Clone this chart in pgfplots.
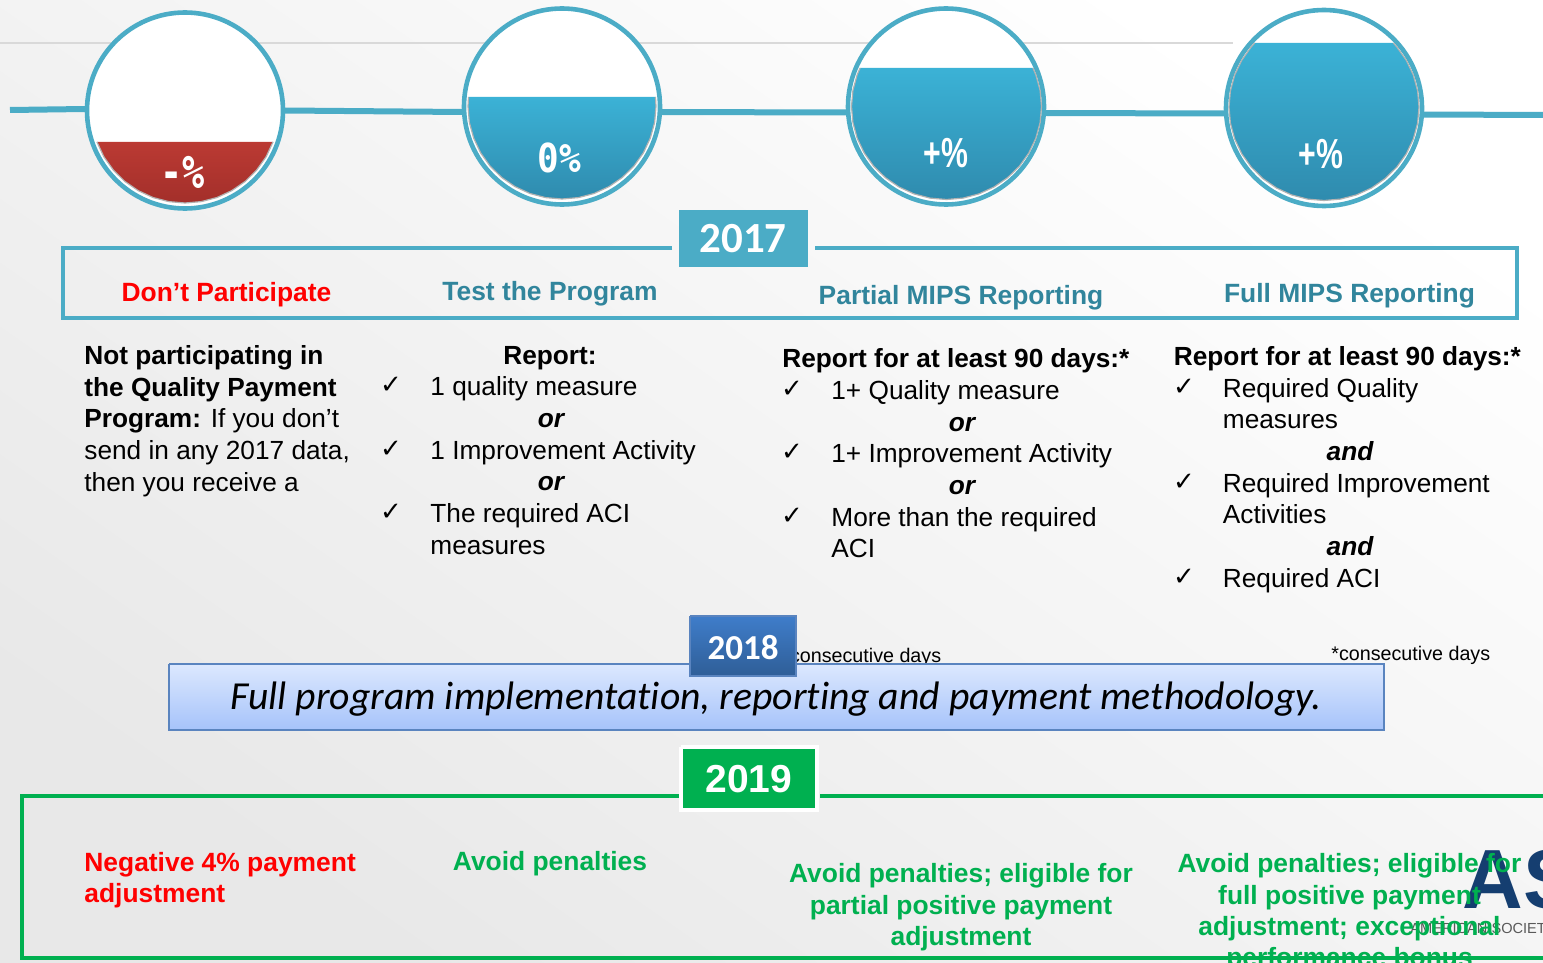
\documentclass[border=0pt]{standalone}
\usepackage{fontspec}
\usepackage{pgfplots}
\pgfplotsset{compat=1.18}
\setmainfont{Liberation Sans}
\newfontfamily\carlito[Ligatures=CommonOff]{Carlito}
\newfontfamily\chk{DejaVu Sans}
\newfontfamily\dmono{DejaVu Sans Mono}
\definecolor{teal}{HTML}{4BACC6}
\definecolor{tealdark}{HTML}{31859C}
\definecolor{grn}{HTML}{00B050}
\definecolor{navy}{HTML}{153E70}
\definecolor{gaugetop}{HTML}{3BB2D6}
\definecolor{gaugebot}{HTML}{2F8BAE}
\definecolor{redtop}{HTML}{BB3A33}
\definecolor{redbot}{HTML}{A32F2A}
\definecolor{bandtop}{HTML}{DCE8FE}
\definecolor{bandbot}{HTML}{A6C3FA}
\definecolor{bandline}{HTML}{5A84BF}
\definecolor{boxtop}{HTML}{3F7DCA}
\definecolor{boxbot}{HTML}{2F5E97}
\tikzset{
  l/.style={anchor=base west,inner sep=0pt,font=\fontsize{13.12}{16}\selectfont,text=black},
  c/.style={l,anchor=base},
  ck/.style={anchor=center,inner sep=0pt,font=\chk\fontsize{13}{14}\selectfont,text=black},
  head/.style={c,font=\bfseries\fontsize{13.2}{16}\selectfont,text=tealdark},
  gl/.style={c,font=\bfseries\fontsize{13.2}{16}\selectfont,text=grn},
  ring/.style={only marks,mark=*,mark size=49pt,mark options={draw=teal,fill=white,line width=2.3pt}},
  teal line/.style={draw=teal,line width=3pt},
  frame/.style={draw=teal,line width=2pt},
  gframe/.style={draw=grn,line width=2pt},
}
\begin{document}
\begin{tikzpicture}
\path[use as bounding box] (0,0) rectangle (771.5pt,481.5pt);
\begin{axis}[
  at={(0,0)},anchor=south west,
  scale only axis,width=771.5pt,height=481.5pt,
  xmin=0,xmax=1543,ymin=0,ymax=963,y dir=reverse,
  axis lines=none,
  clip marker paths=true,
]
% background
\addplot[draw=none,shade,shading=axis,top color=white,middle color=black!1,bottom color=black!9,shading angle=325]
  coordinates {(0,0) (1543,0) (1543,963) (0,963)};
% grey rule and teal time line
\addplot[draw=black!15,line width=0.8pt] coordinates {(0,43) (1233,43)};
\addplot[teal line] coordinates {(10,110) (85,109)};
\addplot[teal line] coordinates {(285,110.5) (462,112)};
\addplot[teal line] coordinates {(662,112) (846,112.5)};
\addplot[teal line] coordinates {(1046,113) (1224,113.5)};
\addplot[teal line] coordinates {(1424,114.5) (1543,115)};
% gauges
\addplot[ring] coordinates {(185,110.5)};
\addplot[ring] coordinates {(562,106.5)};
\addplot[ring] coordinates {(946,106.5)};
\addplot[ring] coordinates {(1324,108)};
\addplot[draw=gray!60,line width=0.6pt,top color=redtop,bottom color=redbot]
  coordinates {(273,142) (266.1,156.8) (256.7,170) (245.2,181.4) (231.8,190.6) (217,197.5) (201.3,201.6) (185,203)
  (168.7,201.6) (153,197.5) (138.2,190.6) (124.8,181.4) (113.3,170) (103.9,156.8) (97,142)};
\addplot[draw=gray!60,line width=0.6pt,top color=gaugetop,bottom color=gaugebot]
  coordinates {(655.5,97) (656,106.5) (654.6,122.6) (650.3,138.1) (643.4,152.8) (634,166) (622.4,177.4) (609,186.6) (594.1,193.5) (578.4,197.6) (562,199)
  (545.6,197.6) (529.9,193.5) (515,186.6) (501.6,177.4) (490,166) (480.6,152.8) (473.7,138.1) (469.4,122.6) (468,106.5) (468.5,97)};
\addplot[draw=gray!60,line width=0.6pt,top color=gaugetop,bottom color=gaugebot]
  coordinates {(1032.9,68) (1035.8,74.7) (1040.1,90.4) (1041.5,106.5) (1040.1,122.6) (1035.8,138.3) (1028.8,153) (1019.3,166.3) (1007.6,177.7) (994,187) (979,193.9) (963,198.1) (946.5,199.5)
  (930,198.1) (914,193.9) (899,187) (885.4,177.7) (873.7,166.3) (864.2,153) (857.2,138.3) (852.9,122.6) (851.5,106.5) (852.9,90.4) (857.2,74.7) (860.1,68)};
\addplot[draw=gray!60,line width=0.6pt,top color=gaugetop,bottom color=gaugebot]
  coordinates {(1393.3,43) (1396.8,46.9) (1406.3,60.3) (1413.3,75) (1417.6,90.8) (1419,107) (1417.6,123.2) (1413.3,139) (1406.3,153.8) (1396.8,167.1) (1385.1,178.6) (1371.5,188) (1356.5,194.9) (1340.5,199.1) (1324,200.5)
  (1307.5,199.1) (1291.5,194.9) (1276.5,188) (1262.9,178.6) (1251.2,167.1) (1241.7,153.8) (1234.7,139) (1230.4,123.2) (1229,107) (1230.4,90.8) (1234.7,75) (1241.7,60.3) (1251.2,46.9) (1254.7,43)};
\node[anchor=center,text=white,font=\dmono\bfseries\fontsize{23}{24}\selectfont] at (axis cs:183,172) {\scalebox{0.8}[1]{-\%}};
\node[anchor=center,text=white,font=\dmono\bfseries\fontsize{20}{22}\selectfont] at (axis cs:559,158) {\scalebox{0.9}[1]{0\%}};
\node[anchor=center,text=white,font=\bfseries\fontsize{21}{24}\selectfont] at (axis cs:946,153) {\scalebox{0.72}[1]{+\%}};
\node[anchor=center,text=white,font=\bfseries\fontsize{21}{24}\selectfont] at (axis cs:1321,154) {\scalebox{0.72}[1]{+\%}};
% 2017 frame and box
\addplot[frame] coordinates {(672,248) (63,248) (63,318) (1517,318) (1517,248) (815,248)};
\addplot[fill=teal,draw=none] coordinates {(679,210) (808,210) (808,267) (679,267)};
\node[anchor=center,text=white,font=\carlito\bfseries\fontsize{21.5}{24}\selectfont] at (axis cs:743,239) {2017};
\node[c,font=\bfseries\fontsize{13.2}{16}\selectfont,text=red] at (axis cs:226.5,301) {Don’t Participate};
\node[head] at (axis cs:550,300) {Test the Program};
\node[head] at (axis cs:961,304) {Partial MIPS Reporting};
\node[head] at (axis cs:1349.5,302) {Full MIPS Reporting};
% column 1
\node[l] at (axis cs:84,364) {\bfseries Not participating in};
\node[l] at (axis cs:84,396) {\bfseries the Quality Payment};
\node[l] at (axis cs:84,427) {\textbf{Program:} If you don’t};
\node[l] at (axis cs:84,459) {send in any 2017 data,};
\node[l] at (axis cs:84,491) {then you receive a};
% column 2
\node[c] at (axis cs:550,364) {\bfseries Report:};
\node[ck] at (axis cs:391,385) {✓};
\node[l] at (axis cs:430,395) {1 quality measure};
\node[c] at (axis cs:551,427) {\bfseries\itshape or};
\node[ck] at (axis cs:391,449) {✓};
\node[l] at (axis cs:430,459) {1 Improvement Activity};
\node[c] at (axis cs:551,490) {\bfseries\itshape or};
\node[ck] at (axis cs:391,512) {✓};
\node[l] at (axis cs:430,522) {The required ACI};
\node[l] at (axis cs:430,554) {measures};
% column 3
\node[l] at (axis cs:782,367) {\bfseries Report for at least 90 days:*};
\node[ck] at (axis cs:792,389) {✓};
\node[l] at (axis cs:831,399) {1+ Quality measure};
\node[c] at (axis cs:962,431) {\bfseries\itshape or};
\node[ck] at (axis cs:792,452) {✓};
\node[l] at (axis cs:831,462) {1+ Improvement Activity};
\node[c] at (axis cs:962,494) {\bfseries\itshape or};
\node[ck] at (axis cs:792,516) {✓};
\node[l] at (axis cs:831,526) {More than the required};
\node[l] at (axis cs:831,557) {ACI};
% column 4
\node[l] at (axis cs:1173.5,365) {\bfseries Report for at least 90 days:*};
\node[ck] at (axis cs:1184,387) {✓};
\node[l] at (axis cs:1222.5,397) {Required Quality};
\node[l] at (axis cs:1222.5,428) {measures};
\node[c] at (axis cs:1350,460) {\bfseries\itshape and};
\node[ck] at (axis cs:1184,482) {✓};
\node[l] at (axis cs:1222.5,492) {Required Improvement};
\node[l] at (axis cs:1222.5,523) {Activities};
\node[c] at (axis cs:1350,555) {\bfseries\itshape and};
\node[ck] at (axis cs:1184,577) {✓};
\node[l] at (axis cs:1222.5,587) {Required ACI};
% footnotes
\node[l,font=\fontsize{9.85}{12}\selectfont] at (axis cs:782,662) {*consecutive days};
\node[l,font=\fontsize{9.85}{12}\selectfont] at (axis cs:1331,660) {*consecutive days};
% 2018 band
\addplot[draw=bandline,line width=1pt,top color=bandtop,bottom color=bandbot]
  coordinates {(169,664) (1384,664) (1384,730) (169,730) (169,664)};
\node[anchor=center,text=black,font=\carlito\itshape\fontsize{19.86}{22}\selectfont] at (axis cs:776,699) {Full program implementation, reporting and payment methodology.};
\addplot[draw=bandline,line width=0.6pt,top color=boxtop,bottom color=boxbot]
  coordinates {(690,616) (796,616) (796,676) (690,676) (690,616)};
\node[anchor=center,text=white,font=\carlito\bfseries\fontsize{17.5}{20}\selectfont] at (axis cs:743,648) {2018};
% 2019 frame
\addplot[gframe] coordinates {(680,796) (22,796) (22,958) (1543,958)};
\addplot[gframe] coordinates {(820,796) (1543,796)};
\addplot[fill=grn,draw=white,line width=2pt] coordinates {(681,747) (817,747) (817,810) (681,810) (681,747)};
\node[anchor=center,text=white,font=\bfseries\fontsize{19.5}{22}\selectfont] at (axis cs:749,779) {2019};
% logo sits under the text
\node[anchor=base west,inner sep=0pt,text=navy,font=\bfseries\fontsize{42}{44}\selectfont] at (axis cs:1462,908) {AS};
\node[anchor=base west,inner sep=0pt,text=black!65,font=\fontsize{7.3}{9}\selectfont] at (axis cs:1410,933) {AMERICAN SOCIETY};
\node[c,font=\bfseries\fontsize{13.2}{16}\selectfont,text=red,anchor=base west] at (axis cs:84,871) {Negative 4\% payment};
\node[c,font=\bfseries\fontsize{13.2}{16}\selectfont,text=red,anchor=base west] at (axis cs:84,902) {adjustment};
\node[gl] at (axis cs:550,870) {Avoid penalties};
\node[gl] at (axis cs:961,882) {Avoid penalties; eligible for};
\node[gl] at (axis cs:961,914) {partial positive payment};
\node[gl] at (axis cs:961,945) {adjustment};
\node[gl] at (axis cs:1349.5,872) {Avoid penalties; eligible for};
\node[gl] at (axis cs:1349.5,904) {full positive payment};
\node[gl] at (axis cs:1349.5,935) {adjustment; exceptional};
\node[gl] at (axis cs:1349.5,966) {performance bonus};
\end{axis}
\end{tikzpicture}
\end{document}
